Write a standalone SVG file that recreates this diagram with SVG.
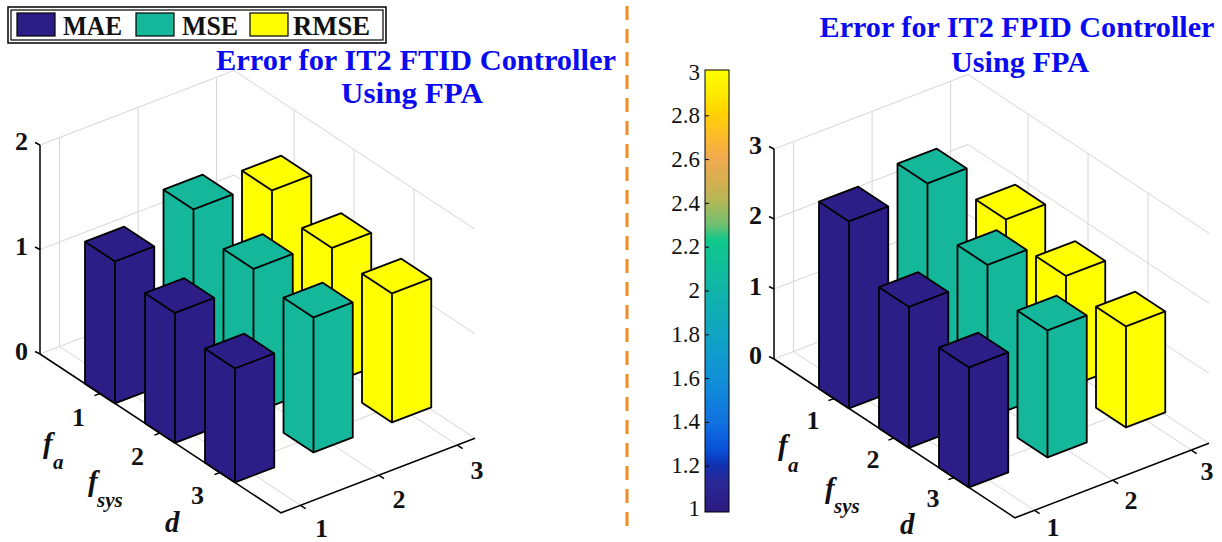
<svg xmlns="http://www.w3.org/2000/svg" width="1222" height="542" viewBox="0 0 1222 542">
<style>
.grid{stroke:#d6d6d6;stroke-width:1;fill:none}
.ax{stroke:#000;stroke-width:1.5;fill:none}
.hex{stroke:#000;stroke-width:1.8;stroke-linejoin:round}
.edge{stroke:#000;stroke-width:1.8;fill:none;stroke-linejoin:round}
.mae{fill:#2d1e87}
.mse{fill:#14b799}
.rmse{fill:#ffff00}
.tk{font-family:"Liberation Serif",serif;font-weight:bold;font-size:26px;fill:#111;text-anchor:middle}
.zt{font-family:"Liberation Serif",serif;font-weight:bold;font-size:26px;fill:#111;text-anchor:end}
.cb{font-family:"Liberation Serif",serif;font-size:23px;fill:#111;text-anchor:end}
.lab{font-family:"Liberation Serif",serif;font-style:italic;font-weight:bold;fill:#111}
.title{font-family:"Liberation Serif",serif;font-weight:bold;font-size:29px;fill:#0a0af0;text-anchor:middle}
.leg{font-family:"Liberation Serif",serif;font-weight:bold;font-size:28px;fill:#111}
</style>
<defs>
<linearGradient id="parula" x1="0" y1="0" x2="0" y2="1">
<stop offset="0" stop-color="#ffff00"/>
<stop offset="0.057" stop-color="#ffe800"/>
<stop offset="0.097" stop-color="#ffd200"/>
<stop offset="0.158" stop-color="#fbb830"/>
<stop offset="0.2" stop-color="#f0aa50"/>
<stop offset="0.26" stop-color="#d0b050"/>
<stop offset="0.3" stop-color="#b0b858"/>
<stop offset="0.35" stop-color="#70c070"/>
<stop offset="0.385" stop-color="#10c88a"/>
<stop offset="0.5" stop-color="#10b4a8"/>
<stop offset="0.6" stop-color="#10a4c4"/>
<stop offset="0.7" stop-color="#1090d8"/>
<stop offset="0.8" stop-color="#1070e0"/>
<stop offset="0.86" stop-color="#0850d8"/>
<stop offset="0.894" stop-color="#1030b0"/>
<stop offset="0.93" stop-color="#2a2898"/>
<stop offset="1" stop-color="#2c1a80"/>
</linearGradient>
</defs>
<rect width="1222" height="542" fill="#fff"/>

<g id="legend">
<rect x="8" y="7" width="378" height="36" fill="#fff" stroke="#000" stroke-width="1.5"/>
<rect x="11" y="10" width="372" height="30" fill="none" stroke="#000" stroke-width="1.2"/>
<rect x="17" y="13" width="38" height="23" class="mae" stroke="#000" stroke-width="1.2"/>
<text class="leg" x="63" y="35" textLength="59" lengthAdjust="spacingAndGlyphs">MAE</text>
<rect x="136" y="13" width="38" height="23" class="mse" stroke="#000" stroke-width="1.2"/>
<text class="leg" x="182" y="35" textLength="56" lengthAdjust="spacingAndGlyphs">MSE</text>
<rect x="250" y="13" width="38" height="23" class="rmse" stroke="#000" stroke-width="1.2"/>
<text class="leg" x="293" y="35" textLength="77" lengthAdjust="spacingAndGlyphs">RMSE</text>
</g>

<g id="divider">
<path d="M627,6 V530" stroke="#f28c1e" stroke-width="3" stroke-dasharray="14 9" fill="none"/>
</g>

<g id="left-chart">
<g class="grid">
<path d="M100,393.5 L294,319 M160,433 L354,358.5 M220,472.5 L414,398"/>
<path d="M59.6,346.5 L300.6,505.3 M138.1,316.5 L379.1,475.3 M216.6,286.5 L457.6,445.3"/>
<path d="M59.6,346.5 V137.5 M138.1,316.5 V107.5 M216.6,286.5 V77.5"/>
<path d="M294,319 V110 M354,358.5 V149.5 M414,398 V189"/>
<path d="M40,354 L234,279.5 L475,438.3 M40,249.5 L234,175 L475,333.8 M40,145 L234,70.5 L475,229.3"/>
</g>
<g class="ax">
<path d="M40,354 V145 M40,354 L281,512.8 L475,438.3"/>
<path d="M40,354 l-5,-2.5 M40,249.5 l-5,-2.5 M40,145 l-5,-2.5"/>
<path d="M100,393.5 l-5.6,2.1 M160,433 l-5.6,2.1 M220,472.5 l-5.6,2.1"/>
<path d="M300.6,505.3 l5,3.3 M379.1,475.3 l5,3.3 M457.6,445.3 l5,3.3"/>
</g>
<g id="left-bars">
<g transform="translate(272,343.4)" class="rmse"><path class="hex" d="M-30,-19.75 L0,0 L39.25,-15 L39.25,-168 L9.25,-187.75 L-30,-172.75 Z"/><path class="edge" d="M0,0 V-153 M-30,-172.75 L0,-153 L39.25,-168"/></g>
<g transform="translate(193.5,373.4)" class="mse"><path class="hex" d="M-30,-19.75 L0,0 L39.25,-15 L39.25,-179 L9.25,-198.75 L-30,-183.75 Z"/><path class="edge" d="M0,0 V-164 M-30,-183.75 L0,-164 L39.25,-179"/></g>
<g transform="translate(115,403.4)" class="mae"><path class="hex" d="M-30,-19.75 L0,0 L39.25,-15 L39.25,-157 L9.25,-176.75 L-30,-161.75 Z"/><path class="edge" d="M0,0 V-142 M-30,-161.75 L0,-142 L39.25,-157"/></g>
<g transform="translate(332,382.9)" class="rmse"><path class="hex" d="M-30,-19.75 L0,0 L39.25,-15 L39.25,-150 L9.25,-169.75 L-30,-154.75 Z"/><path class="edge" d="M0,0 V-135 M-30,-154.75 L0,-135 L39.25,-150"/></g>
<g transform="translate(253.5,412.9)" class="mse"><path class="hex" d="M-30,-19.75 L0,0 L39.25,-15 L39.25,-159 L9.25,-178.75 L-30,-163.75 Z"/><path class="edge" d="M0,0 V-144 M-30,-163.75 L0,-144 L39.25,-159"/></g>
<g transform="translate(175,442.9)" class="mae"><path class="hex" d="M-30,-19.75 L0,0 L39.25,-15 L39.25,-145 L9.25,-164.75 L-30,-149.75 Z"/><path class="edge" d="M0,0 V-130 M-30,-149.75 L0,-130 L39.25,-145"/></g>
<g transform="translate(392,422.4)" class="rmse"><path class="hex" d="M-30,-19.75 L0,0 L39.25,-15 L39.25,-144 L9.25,-163.75 L-30,-148.75 Z"/><path class="edge" d="M0,0 V-129 M-30,-148.75 L0,-129 L39.25,-144"/></g>
<g transform="translate(313.5,452.4)" class="mse"><path class="hex" d="M-30,-19.75 L0,0 L39.25,-15 L39.25,-150 L9.25,-169.75 L-30,-154.75 Z"/><path class="edge" d="M0,0 V-135 M-30,-154.75 L0,-135 L39.25,-150"/></g>
<g transform="translate(235,482.4)" class="mae"><path class="hex" d="M-30,-19.75 L0,0 L39.25,-15 L39.25,-129 L9.25,-148.75 L-30,-133.75 Z"/><path class="edge" d="M0,0 V-114 M-30,-133.75 L0,-114 L39.25,-129"/></g>
</g>
<g id="left-labels">
<text class="zt" x="28" y="150">2</text>
<text class="zt" x="28" y="255">1</text>
<text class="zt" x="28" y="360">0</text>
<text class="tk" x="78.5" y="426">1</text>
<text class="tk" x="137.5" y="465">2</text>
<text class="tk" x="197.5" y="504">3</text>
<text class="tk" x="321.5" y="537">1</text>
<text class="tk" x="399" y="508">2</text>
<text class="tk" x="477" y="479">3</text>
<text class="lab" x="43" y="453" font-size="29">f<tspan x="53" y="469" font-size="21">a</tspan></text>
<text class="lab" x="88" y="491" font-size="29">f<tspan x="97" y="507" font-size="21">sys</tspan></text>
<text class="lab" x="165" y="532" font-size="29">d</text>
<text class="title" x="416" y="70" textLength="400" lengthAdjust="spacingAndGlyphs">Error for IT2 FTID Controller</text>
<text class="title" x="412" y="103" textLength="142" lengthAdjust="spacingAndGlyphs">Using FPA</text>
</g>
</g>

<g id="colorbar">
<rect x="705" y="70" width="24" height="442" fill="url(#parula)" stroke="#000" stroke-width="1"/>
<path d="M705,466.2 h4 M705,422.4 h4 M705,378.6 h4 M705,334.8 h4 M705,291 h4 M705,247.2 h4 M705,203.4 h4 M705,159.6 h4 M705,115.8 h4" stroke="#000" stroke-width="1"/>
<text class="cb" x="700" y="80">3</text>
<text class="cb" x="700" y="123">2.8</text>
<text class="cb" x="700" y="167">2.6</text>
<text class="cb" x="700" y="211">2.4</text>
<text class="cb" x="700" y="254">2.2</text>
<text class="cb" x="700" y="298">2</text>
<text class="cb" x="700" y="342">1.8</text>
<text class="cb" x="700" y="386">1.6</text>
<text class="cb" x="700" y="429">1.4</text>
<text class="cb" x="700" y="473">1.2</text>
<text class="cb" x="700" y="516">1</text>
</g>

<g id="right-chart">
<g class="grid">
<path d="M834,398.5 L1028,324 M894,438 L1088,363.5 M954,477.5 L1148,403"/>
<path d="M793.6,351.5 L1034.6,510.3 M872.1,321.5 L1113.1,480.3 M950.6,291.5 L1191.6,450.3"/>
<path d="M793.6,351.5 V141.5 M872.1,321.5 V111.5 M950.6,291.5 V81.5"/>
<path d="M1028,324 V114 M1088,363.5 V153.5 M1148,403 V193"/>
<path d="M774,359 L968,284.5 L1209,443.3 M774,289 L968,214.5 L1209,373.3 M774,219 L968,144.5 L1209,303.3 M774,149 L968,74.5 L1209,233.3"/>
</g>
<g class="ax">
<path d="M774,359 V149 M774,359 L1015,517.8 L1209,443.3"/>
<path d="M774,359 l-5,-2.5 M774,289 l-5,-2.5 M774,219 l-5,-2.5 M774,149 l-5,-2.5"/>
<path d="M834,398.5 l-5.6,2.1 M894,438 l-5.6,2.1 M954,477.5 l-5.6,2.1"/>
<path d="M1034.6,510.3 l5,3.3 M1113.1,480.3 l5,3.3 M1191.6,450.3 l5,3.3"/>
</g>
<g id="right-bars">
<g transform="translate(1006,348.4)" class="rmse"><path class="hex" d="M-30,-19.75 L0,0 L39.25,-15 L39.25,-144 L9.25,-163.75 L-30,-148.75 Z"/><path class="edge" d="M0,0 V-129 M-30,-148.75 L0,-129 L39.25,-144"/></g>
<g transform="translate(927.5,378.4)" class="mse"><path class="hex" d="M-30,-19.75 L0,0 L39.25,-15 L39.25,-210 L9.25,-229.75 L-30,-214.75 Z"/><path class="edge" d="M0,0 V-195 M-30,-214.75 L0,-195 L39.25,-210"/></g>
<g transform="translate(849,408.4)" class="mae"><path class="hex" d="M-30,-19.75 L0,0 L39.25,-15 L39.25,-202 L9.25,-221.75 L-30,-206.75 Z"/><path class="edge" d="M0,0 V-187 M-30,-206.75 L0,-187 L39.25,-202"/></g>
<g transform="translate(1066,387.9)" class="rmse"><path class="hex" d="M-30,-19.75 L0,0 L39.25,-15 L39.25,-127 L9.25,-146.75 L-30,-131.75 Z"/><path class="edge" d="M0,0 V-112 M-30,-131.75 L0,-112 L39.25,-127"/></g>
<g transform="translate(987.5,417.9)" class="mse"><path class="hex" d="M-30,-19.75 L0,0 L39.25,-15 L39.25,-168 L9.25,-187.75 L-30,-172.75 Z"/><path class="edge" d="M0,0 V-153 M-30,-172.75 L0,-153 L39.25,-168"/></g>
<g transform="translate(909,447.9)" class="mae"><path class="hex" d="M-30,-19.75 L0,0 L39.25,-15 L39.25,-156 L9.25,-175.75 L-30,-160.75 Z"/><path class="edge" d="M0,0 V-141 M-30,-160.75 L0,-141 L39.25,-156"/></g>
<g transform="translate(1126,427.4)" class="rmse"><path class="hex" d="M-30,-19.75 L0,0 L39.25,-15 L39.25,-116 L9.25,-135.75 L-30,-120.75 Z"/><path class="edge" d="M0,0 V-101 M-30,-120.75 L0,-101 L39.25,-116"/></g>
<g transform="translate(1047.5,457.4)" class="mse"><path class="hex" d="M-30,-19.75 L0,0 L39.25,-15 L39.25,-142 L9.25,-161.75 L-30,-146.75 Z"/><path class="edge" d="M0,0 V-127 M-30,-146.75 L0,-127 L39.25,-142"/></g>
<g transform="translate(969,487.4)" class="mae"><path class="hex" d="M-30,-19.75 L0,0 L39.25,-15 L39.25,-135 L9.25,-154.75 L-30,-139.75 Z"/><path class="edge" d="M0,0 V-120 M-30,-139.75 L0,-120 L39.25,-135"/></g>
</g>
<g id="right-labels">
<text class="zt" x="762" y="154">3</text>
<text class="zt" x="762" y="224">2</text>
<text class="zt" x="762" y="295">1</text>
<text class="zt" x="762" y="364">0</text>
<text class="tk" x="813" y="429">1</text>
<text class="tk" x="873" y="468">2</text>
<text class="tk" x="933" y="507">3</text>
<text class="tk" x="1053" y="536">1</text>
<text class="tk" x="1131" y="509">2</text>
<text class="tk" x="1207" y="480">3</text>
<text class="lab" x="778" y="455" font-size="29">f<tspan x="788" y="472" font-size="21">a</tspan></text>
<text class="lab" x="825" y="498" font-size="29">f<tspan x="834" y="513" font-size="21">sys</tspan></text>
<text class="lab" x="900" y="534" font-size="29">d</text>
<text class="title" x="1017" y="37" textLength="395" lengthAdjust="spacingAndGlyphs">Error for IT2 FPID Controller</text>
<text class="title" x="1020" y="72" textLength="138" lengthAdjust="spacingAndGlyphs">Using FPA</text>
</g>
</g>
</svg>
